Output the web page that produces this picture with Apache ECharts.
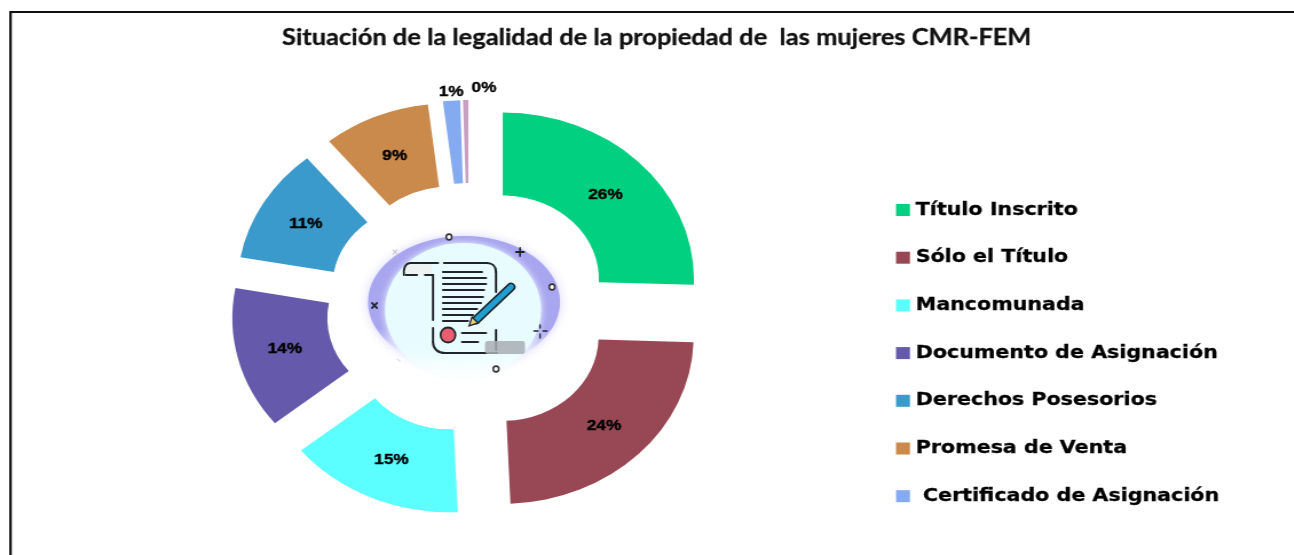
<!DOCTYPE html>
<html>
<head>
<meta charset="utf-8">
<style>
html,body{margin:0;padding:0;background:#fff;overflow:hidden}
/* the source picture is stretched sideways, a pie can only be round so the whole canvas is stretched */
#main{width:1130px;height:555px;transform:scaleX(1.145);transform-origin:0 0}
</style>
<script src="https://cdn.jsdelivr.net/npm/echarts@6/dist/echarts.min.js"></script>
</head>
<body>
<div id="main"></div>
<script>
var categories = ['Título Inscrito', 'Sólo el Título', 'Mancomunada', 'Documento de Asignación', 'Derechos Posesorios', 'Promesa de Venta', ' Certificado de Asignación', 'Otros'];
var values = [25.6, 23.9, 14.9, 13.75, 11.2, 9.1, 1.45, 0.45];
var colors = ['#00d07f', '#984855', '#5bffff', '#6459aa', '#3a9acb', '#c98a4b', '#84abef', '#c9a0c4'];
var legendNames = categories.slice(0, 7);
var titleText = 'Situación de la legalidad de la propiedad de  las mujeres CMR-FEM';

var stretch = 1.145;
var myChart = echarts.init(document.getElementById('main'));

var pieData = [];
for (var i = 0; i < categories.length; i++)
{
    pieData.push({
        name: categories[i],
        value: values[i],
        selected: true,
        itemStyle: { color: colors[i] },
        label: i >= 6 ? { position: 'outside' } : { position: 'inside' },
        labelLine: { show: false }
    });
}

// small shifts of the percent labels from where the library puts them
var labelNudge = [[-2.6, 5], [-2.6, -1], [2, -3], [3.4, -1], [3.5, 2], [1.7, 4], [46.6, 6], [62, 3]];

// icon in the hole of the doughnut, coordinates are in page pixels (the group undoes the stretch)
var ink = '#20242c';
function bar(x1, y1, x2, y2, w, col)
{
    return {
        type: 'line',
        shape: { x1: x1, y1: y1, x2: x2, y2: y2 },
        style: { stroke: col || ink, lineWidth: w || 2.2, lineCap: 'round' }
    };
}
function curve(x1, y1, cx1, cy1, cx2, cy2, x2, y2)
{
    return {
        type: 'bezierCurve',
        shape: { x1: x1, y1: y1, cpx1: cx1, cpy1: cy1, cpx2: cx2, cpy2: cy2, x2: x2, y2: y2 },
        style: { stroke: ink, lineWidth: 2.2, fill: 'none', lineCap: 'round' }
    };
}
function dot(x, y)
{
    return { type: 'circle', shape: { cx: x, cy: y, r: 2.8 }, style: { fill: '#fff', stroke: '#333', lineWidth: 1.7 } };
}
var icon = [
    {
        type: 'ellipse',
        shape: { cx: 464, cy: 302, rx: 96, ry: 66 },
        style: {
            shadowBlur: 8,
            shadowColor: '#d6d4fa',
            fill: {
                type: 'linear', x: 0, y: 0, x2: 0, y2: 1,
                colorStops: [{ offset: 0, color: '#a9a6f0' }, { offset: 0.7, color: '#a9a6f0' }, { offset: 0.95, color: '#ffffff' }]
            }
        }
    },
    {
        type: 'ellipse',
        shape: { cx: 463, cy: 310, rx: 78, ry: 67 },
        style: {
            shadowBlur: 6,
            shadowColor: '#f0fdff',
            fill: {
                type: 'linear', x: 0, y: 0, x2: 0, y2: 1,
                colorStops: [{ offset: 0, color: '#e8fcff' }, { offset: 0.8, color: '#e8fcff' }, { offset: 1, color: '#ffffff' }]
            }
        }
    },
    // scroll
    { type: 'polygon', shape: { points: [[411, 263], [432, 263], [431, 275], [405, 275], [404, 270]] }, style: { fill: '#eef2f1' } },
    bar(411, 263, 438, 263), bar(406, 275, 417, 275), bar(425, 275, 433, 275),
    curve(411, 263, 405, 263, 403, 269, 404, 275),
    bar(444, 263, 487, 263),
    curve(487, 263, 492, 263, 496, 266, 496, 272),
    bar(496, 272, 496, 292),
    bar(496, 330, 496, 350),
    bar(433, 275, 433, 320),
    bar(433, 328, 433, 342),
    curve(433, 342, 433, 349, 438, 353, 445, 353),
    bar(445, 353, 497, 353),
    { type: 'rect', shape: { x: 485, y: 341, width: 40, height: 13, r: 3 }, style: { fill: '#a9aeb4', opacity: 0.85 } },
    // text lines of the page
    bar(443, 272, 482, 272), bar(443, 278, 486, 278), bar(443, 284, 486, 284), bar(443, 290, 484, 290),
    bar(443, 297, 483, 297), bar(443, 303, 481, 303), bar(443, 309, 477, 309), bar(443, 315, 473, 315), bar(443, 321, 468, 321),
    bar(462, 333, 486, 333), bar(462, 342, 478, 342),
    // seal
    { type: 'circle', shape: { cx: 448, cy: 335, r: 7.5 }, style: { fill: '#e85d6f', stroke: ink, lineWidth: 1.8 } },
    // pen
    bar(476, 320, 511, 287, 9, ink),
    bar(476, 320, 511, 287, 5.5, '#1e9fd0'),
    { type: 'polygon', shape: { points: [[469, 326], [472, 317], [478, 323]] }, style: { fill: '#e6d07a', stroke: ink, lineWidth: 1.4 } },
    // small marks on the ring
    dot(449, 237), dot(552, 287), dot(496, 369),
    bar(516, 252, 524, 252, 1.8), bar(520, 248, 520, 256, 1.8),
    bar(372, 303, 377, 308, 1.8), bar(377, 303, 372, 308, 1.8),
    bar(534, 331, 538, 331, 1.5), bar(543, 331, 547, 331, 1.5), bar(540, 325, 540, 328, 1.5), bar(540, 334, 540, 338, 1.5),
    bar(393, 250, 397, 254, 1.2, '#ccc'), bar(397, 250, 393, 254, 1.2, '#ccc'), bar(397, 359, 400, 361, 1.2, '#ddd')
];

var option = {
    animation: false,
    title: {
        text: titleText,
        left: 282 / stretch,
        top: 27,
        padding: 0,
        textStyle: { fontFamily: 'Lato', fontSize: 22.2, fontWeight: 'bold', color: '#111', textBorderColor: '#111', textBorderWidth: 0.3 }
    },
    legend: {
        data: legendNames,
        orient: 'vertical',
        left: 896 / stretch,
        top: 200,
        padding: 0,
        itemWidth: 12.2,
        itemHeight: 12,
        itemGap: 27.7,
        selectedMode: false,
        icon: 'rect',
        textStyle: { fontFamily: 'DejaVu Sans', fontSize: 18, lineHeight: 20, fontWeight: 'bold', color: '#000', textBorderColor: '#000', textBorderWidth: 0.3 }
    },
    series: [{
        type: 'pie',
        center: [469 / stretch, 308],
        radius: [84, 167],
        startAngle: 90,
        clockwise: true,
        selectedMode: 'multiple',
        selectedOffset: 41,
        avoidLabelOverlap: false,
        label: {
            show: true,
            fontFamily: 'Liberation Sans',
            fontSize: 15,
            fontWeight: 'bold',
            color: '#000',
            textBorderColor: '#000',
            textBorderWidth: 0.4,
            formatter: function (p)
            {
                return Math.round(p.value) + '%';
            }
        },
        labelLine: { show: false },
        labelLayout: function (p)
        {
            var n = labelNudge[p.dataIndex];
            return { dx: n[0], dy: n[1], hideOverlap: false };
        },
        data: pieData
    }],
    graphic: [
        {
            type: 'polyline',
            shape: { points: [[10.5 / stretch, 560], [10.5 / stretch, 12], [1140, 12]] },
            style: { fill: 'none', stroke: '#111', lineWidth: 2.2 }
        },
        { type: 'group', scaleX: 1 / stretch, children: icon }
    ]
};

myChart.setOption(option);
</script>
</body>
</html>
